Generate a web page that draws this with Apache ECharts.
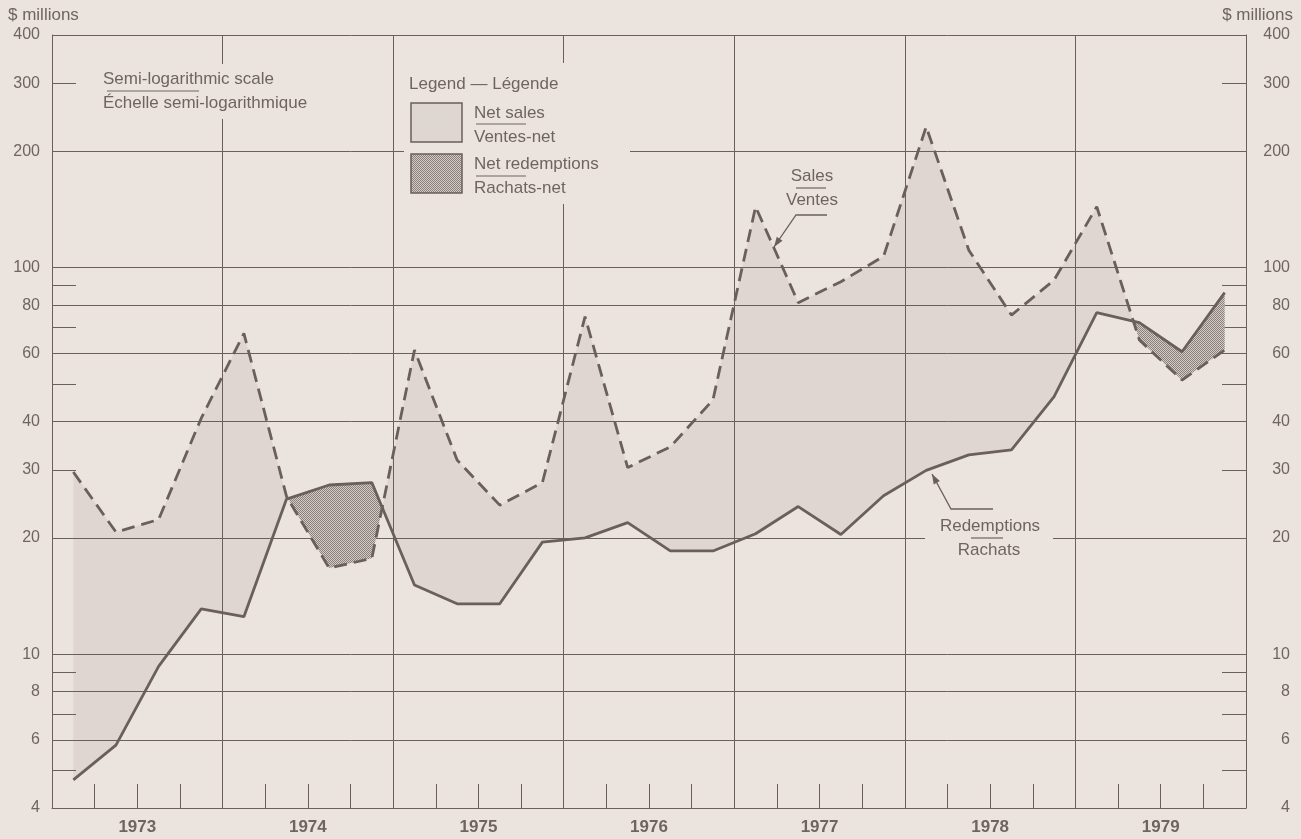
<!DOCTYPE html>
<html>
<head>
<meta charset="utf-8">
<title>Sales and redemptions</title>
<script src="https://cdn.jsdelivr.net/npm/echarts@6/dist/echarts.min.js"></script>
<style>
  html, body { margin: 0; padding: 0; background: #ebe4de; }
  #main { width: 1301px; height: 839px; }
</style>
</head>
<body>
<div id="main"></div>
<script>
// quarterly figures, $ millions, 1973 Q1 .. 1979 Q4
var years = ['1973', '1974', '1975', '1976', '1977', '1978', '1979'];
var quarters = [];
years.forEach(function (y) {
  for (var q = 1; q <= 4; q++) quarters.push(y + ' Q' + q);
});

var sales = [29.6, 20.7, 22.3, 40.8, 67.6, 25.6, 16.7, 17.7,
             61.2, 31.8, 24.3, 27.8, 74.7, 30.4, 34.4, 45.5,
             143.8, 81.2, 92.0, 107.0, 231.6, 111.0, 75.4, 92.9,
             143.8, 65.0, 51.2, 61.2];
var redemptions = [4.73, 5.82, 9.3, 13.1, 12.5, 25.2, 27.4, 27.8,
                   15.1, 13.5, 13.5, 19.5, 20.0, 21.9, 18.5, 18.5,
                   20.5, 24.1, 20.4, 25.7, 29.9, 32.8, 33.8, 46.4,
                   76.5, 72.1, 60.6, 86.2];

var gridValues = [4, 6, 8, 10, 20, 40, 60, 80, 100, 200, 400];
var shortTickValues = [5, 7, 9, 30, 50, 70, 90, 300];
var labelValues = [4, 6, 8, 10, 20, 30, 40, 60, 80, 100, 200, 300, 400];

var bg = '#ebe4de';
var ink = '#6a5f5a';
var textInk = '#6e6460';
var font = '"Liberation Sans", Arial, sans-serif';
var netSalesFill = 'rgba(120,100,95,0.10)';

// stipple for net redemptions
var dots = document.createElement('canvas');
dots.width = 2; dots.height = 2;
var g = dots.getContext('2d');
g.fillStyle = '#d3cbc5'; g.fillRect(0, 0, 2, 2);
g.fillStyle = '#8a7f7a'; g.fillRect(0, 0, 1, 1); g.fillRect(1, 1, 1, 1);
var netRedFill = { image: dots, repeat: 'repeat' };

var myChart = echarts.init(document.getElementById('main'));

// band between the two lines: one polygon per run, split where they cross
function renderFill(params, api) {
  var S = sales.map(function (v, i) { return api.coord([i, v]); });
  var R = redemptions.map(function (v, i) { return api.coord([i, v]); });
  var kids = [];
  var top = [S[0]], bot = [R[0]];
  var up = (R[0][1] - S[0][1]) >= 0;
  function flush() {
    kids.push({ type: 'polygon', silent: true,
      shape: { points: top.concat(bot.slice().reverse()) },
      style: { fill: up ? netSalesFill : netRedFill } });
  }
  for (var i = 0; i < S.length - 1; i++) {
    var d0 = R[i][1] - S[i][1], d1 = R[i + 1][1] - S[i + 1][1];
    if (d0 * d1 < 0) {
      var t = d0 / (d0 - d1);
      var c = [S[i][0] + t * (S[i + 1][0] - S[i][0]), S[i][1] + t * (S[i + 1][1] - S[i][1])];
      top.push(c); bot.push(c);
      flush();
      top = [c]; bot = [c];
      up = d1 > 0;
    }
    top.push(S[i + 1]); bot.push(R[i + 1]);
  }
  flush();
  return { type: 'group', children: kids };
}

function txt(str, x, y, align, size, weight) {
  return { type: 'text', z: 10, silent: true,
    style: { text: str, x: x, y: y, fill: textInk,
      font: (weight || 'normal') + ' ' + (size || 17) + 'px ' + font,
      align: align || 'left', textAlign: align || 'left',
      verticalAlign: 'middle', textVerticalAlign: 'middle' } };
}
function rule(x1, x2, y) {
  return { type: 'line', z: 10, silent: true, shape: { x1: x1, y1: y, x2: x2, y2: y },
    style: { stroke: textInk, lineWidth: 1.2 } };
}
function arrow(pts) {
  var n = pts.length, tip = pts[n - 1], from = pts[n - 2];
  var dx = tip[0] - from[0], dy = tip[1] - from[1];
  var len = Math.sqrt(dx * dx + dy * dy);
  dx /= len; dy /= len;
  var bx = tip[0] - 10 * dx, by = tip[1] - 10 * dy;
  return [
    { type: 'polyline', z: 10, silent: true, shape: { points: pts },
      style: { stroke: ink, lineWidth: 1.3, fill: null } },
    { type: 'polygon', z: 10, silent: true,
      shape: { points: [tip, [bx + 3.5 * dy, by - 3.5 * dx], [bx - 3.5 * dy, by + 3.5 * dx]] },
      style: { fill: ink } }
  ];
}
function cover(x, y, w, h) {
  return { type: 'rect', z: 1, silent: true, shape: { x: x, y: y, width: w, height: h },
    style: { fill: bg } };
}

var logAxis = { type: 'log', logBase: 10, min: 4, max: 400 };

myChart.setOption({
  backgroundColor: bg,
  animation: false,
  grid: { left: 52, right: 55, top: 35, bottom: 31, containLabel: false },
  xAxis: [
    { type: 'category', data: quarters, boundaryGap: true, position: 'bottom',
      axisLine: { show: true, lineStyle: { color: ink, width: 1 } },
      axisTick: { show: true, interval: 0, inside: true, length: 24, lineStyle: { color: ink, width: 1 } },
      axisLabel: { show: false },
      splitLine: { show: false } },
    { type: 'category', data: years, boundaryGap: true, position: 'bottom',
      axisLine: { show: false },
      axisTick: { show: false },
      axisLabel: { show: true, color: textInk, fontSize: 17, fontWeight: 'bold', fontFamily: font, margin: 11 },
      splitLine: { show: true, interval: 0, lineStyle: { color: ink, width: 1 } } }
  ],
  yAxis: [
    Object.assign({}, logAxis, { position: 'left',
      axisLine: { show: true, lineStyle: { color: ink, width: 1 } },
      axisTick: { show: false, customValues: gridValues },
      axisLabel: { customValues: labelValues, color: textInk, fontSize: 16, fontFamily: font, margin: 12 },
      splitLine: { show: true, lineStyle: { color: ink, width: 1 } } }),
    Object.assign({}, logAxis, { position: 'left',
      axisLine: { show: false },
      axisTick: { show: true, inside: true, length: 24, customValues: shortTickValues, lineStyle: { color: ink, width: 1 } },
      axisLabel: { show: false },
      splitLine: { show: false } }),
    Object.assign({}, logAxis, { position: 'right',
      axisLine: { show: true, lineStyle: { color: ink, width: 1 } },
      axisTick: { show: true, inside: true, length: 24, customValues: shortTickValues, lineStyle: { color: ink, width: 1 } },
      axisLabel: { customValues: labelValues, color: textInk, fontSize: 16, fontFamily: font, margin: 44, align: 'right' },
      splitLine: { show: false } })
  ],
  series: [
    { type: 'custom', name: 'band', xAxisIndex: 0, yAxisIndex: 0, z: 2,
      renderItem: renderFill,
      encode: { x: 0, y: 1 },
      data: [[0, sales[0]]] },
    { type: 'line', name: 'Redemptions', xAxisIndex: 0, yAxisIndex: 0, z: 3,
      data: redemptions, symbol: 'none',
      lineStyle: { color: ink, width: 2.8 } },
    { type: 'line', name: 'Sales', xAxisIndex: 0, yAxisIndex: 0, z: 3,
      data: sales, symbol: 'none',
      lineStyle: { color: ink, width: 2.8, type: [13, 7] } }
  ],
  graphic: { elements: [
    cover(100, 64, 236, 55),
    cover(404, 63, 226, 141),
    cover(925, 514, 128, 48),

    txt('$ millions', 8, 15, 'left', 17),
    txt('$ millions', 1293, 15, 'right', 17),

    txt('Semi-logarithmic scale', 103, 79, 'left'),
    rule(107, 199, 91),
    txt('Échelle semi-logarithmique', 103, 103, 'left'),

    txt('Legend — Légende', 409, 84, 'left'),
    { type: 'rect', z: 10, silent: true, shape: { x: 411, y: 103, width: 51, height: 39 },
      style: { fill: '#ddd6d1', stroke: ink, lineWidth: 1.5 } },
    { type: 'rect', z: 10, silent: true, shape: { x: 411, y: 154, width: 51, height: 39 },
      style: { fill: netRedFill, stroke: ink, lineWidth: 1.5 } },
    txt('Net sales', 474, 113, 'left'),
    rule(476, 526, 124),
    txt('Ventes-net', 474, 137, 'left'),
    txt('Net redemptions', 474, 164, 'left'),
    rule(476, 526, 176),
    txt('Rachats-net', 474, 188, 'left'),

    txt('Sales', 812, 176, 'center'),
    rule(796, 826, 188),
    txt('Ventes', 812, 200, 'center')
  ].concat(arrow([[827, 215], [796, 215], [774, 247]]))
   .concat([
    txt('Redemptions', 990, 526, 'center'),
    rule(971, 1003, 538),
    txt('Rachats', 989, 550, 'center')
  ]).concat(arrow([[993, 509], [951, 509], [932, 474]])) }
});
</script>
</body>
</html>
